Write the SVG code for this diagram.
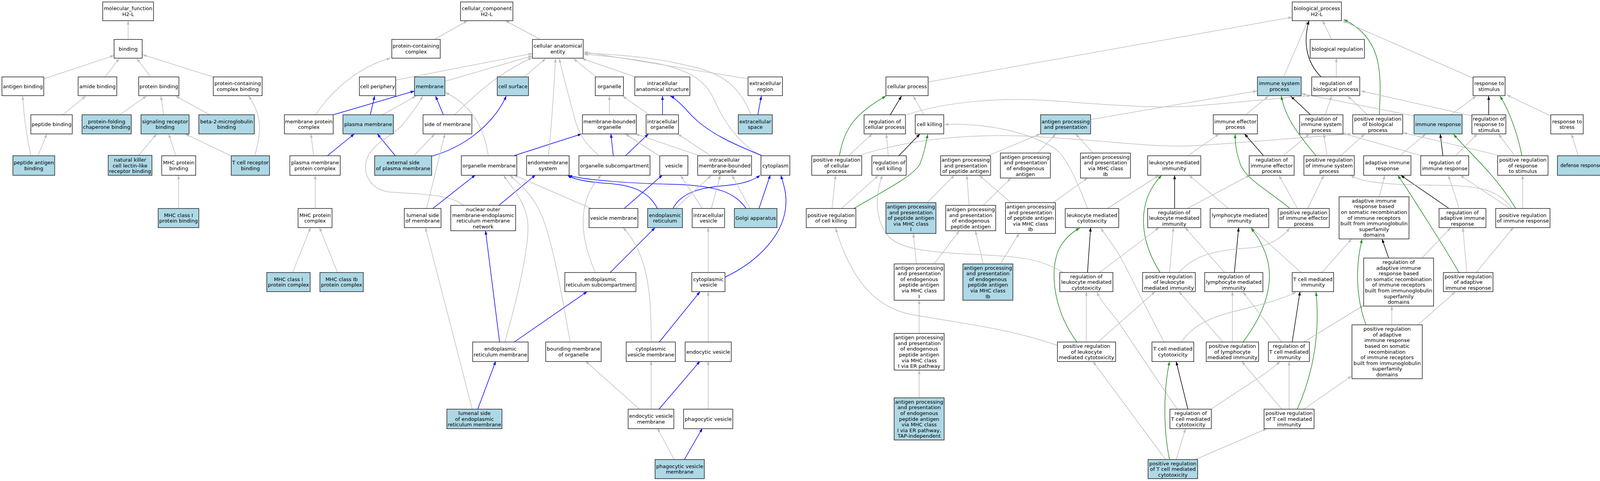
<svg xmlns="http://www.w3.org/2000/svg" width="4113" height="1232" viewBox="0 0 4113 1232">
<style>
.node rect{fill:#fff;stroke:#222;stroke-width:1.5}
.node.hl rect{fill:#add8e6}
.node text{font-family:"DejaVu Sans","Liberation Sans",sans-serif;font-size:13px;text-anchor:middle;fill:#000}
.e path{fill:none;stroke-width:1.5}
.e .g{stroke:#bebebe;marker-end:url(#ag)}
.e .k{stroke:#000;marker-end:url(#ak)}
.e .b{stroke:#0000ff;marker-end:url(#ab)}
.e .v{stroke:#228b22;marker-end:url(#av)}
</style>
<defs>
<marker id="ag" viewBox="0 0 10 7" refX="10" refY="3.5" markerWidth="10" markerHeight="7" markerUnits="userSpaceOnUse" orient="auto"><path d="M0,0L10,3.5L0,7z" fill="#bebebe"/></marker>
<marker id="ak" viewBox="0 0 10 7" refX="10" refY="3.5" markerWidth="10" markerHeight="7" markerUnits="userSpaceOnUse" orient="auto"><path d="M0,0L10,3.5L0,7z" fill="#000"/></marker>
<marker id="ab" viewBox="0 0 10 7" refX="10" refY="3.5" markerWidth="10" markerHeight="7" markerUnits="userSpaceOnUse" orient="auto"><path d="M0,0L10,3.5L0,7z" fill="#0000ff"/></marker>
<marker id="av" viewBox="0 0 10 7" refX="10" refY="3.5" markerWidth="10" markerHeight="7" markerUnits="userSpaceOnUse" orient="auto"><path d="M0,0L10,3.5L0,7z" fill="#228b22"/></marker>
</defs>
<rect x="0" y="0" width="4113" height="1232" fill="#fff"/>
<g id="edges" class="e">
<path class="g" d="M328,100L328,53"/>
<path class="g" d="M112,202L292,142"/>
<path class="g" d="M269,197L305,150"/>
<path class="g" d="M386,197L350,150"/>
<path class="g" d="M545,197L365,140"/>
<path class="g" d="M161,294L219,246"/>
<path class="g" d="M306,294L375,246"/>
<path class="g" d="M419,294L412,246"/>
<path class="g" d="M537,294L450,246"/>
<path class="g" d="M79,399Q62,320 58,246"/>
<path class="g" d="M97,399L120,343"/>
<path class="g" d="M355,398L401,343"/>
<path class="g" d="M450,399L432,343"/>
<path class="g" d="M591,399L474,343"/>
<path class="g" d="M652,399C672,330 668,290 636,246"/>
<path class="g" d="M457,534L457,449"/>
<path class="g" d="M1112,101L1197,53"/>
<path class="g" d="M1381,100L1294,53"/>
<path class="g" d="M1013,205L1363,137"/>
<path class="g" d="M1140,208L1363,143"/>
<path class="g" d="M1342,197L1397,150"/>
<path class="g" d="M1526,197L1468,150"/>
<path class="g" d="M1627,197L1490,150"/>
<path class="g" d="M1915,202L1495,133"/>
<path class="g" d="M1923,294C1900,240 1870,200 1800,178C1700,150 1600,140 1495,136"/>
<path class="g" d="M1949,399C1885,365 1848,300 1828,255C1808,210 1770,180 1680,162C1600,148 1540,142 1495,139"/>
<path class="g" d="M808,294C850,230 920,170 1000,149"/>
<path class="b" d="M853,294L1061,233"/>
<path class="b" d="M948,294L959,246"/>
<path class="g" d="M979,294L1065,246"/>
<path class="b" d="M1135,294L1115,246"/>
<path class="g" d="M1163,294C1210,250 1270,190 1362,148"/>
<path class="g" d="M1250,399C1240,330 1210,270 1140,237"/>
<path class="b" d="M1949,398C1880,370 1810,340 1765,290C1740,262 1725,250 1716,246"/>
<path class="b" d="M1940,294L1949,246"/>
<path class="g" d="M1560,294L1560,246"/>
<path class="g" d="M1662,294L1594,246"/>
<path class="b" d="M1696,294L1696,246"/>
<path class="b" d="M1012,399L966,343"/>
<path class="g" d="M1059,399L1113,343"/>
<path class="b" d="M1105,400C1185,378 1240,330 1270,290C1285,270 1292,255 1296,246"/>
<path class="g" d="M803,399L796,343"/>
<path class="b" d="M838,399L907,343"/>
<path class="b" d="M1315,399L1489,343"/>
<path class="g" d="M1404,399C1412,320 1418,230 1422,150"/>
<path class="g" d="M1533,398C1500,370 1482,345 1470,300C1455,240 1440,190 1432,150"/>
<path class="b" d="M1570,399L1564,343"/>
<path class="b" d="M1601,399L1660,343"/>
<path class="g" d="M1687,399L1601,343"/>
<path class="g" d="M1788,398L1627,343"/>
<path class="g" d="M1818,398L1735,343"/>
<path class="g" d="M807,534L807,449"/>
<path class="g" d="M749,698L795,583"/>
<path class="g" d="M864,698L818,583"/>
<path class="g" d="M1187,526C1150,495 1060,497 1000,492C950,488 925,445 940,405C955,365 1010,345 1030,320C1050,295 1070,270 1082,246"/>
<path class="b" d="M1108,534L1217,448"/>
<path class="g" d="M1092,534L1139,343"/>
<path class="b" d="M1276,527L1371,448"/>
<path class="g" d="M1292,877C1320,780 1360,620 1350,560C1340,510 1310,480 1289,449"/>
<path class="g" d="M1460,877C1440,770 1420,640 1390,560C1370,505 1330,470 1305,449"/>
<path class="g" d="M1516,535L1315,448"/>
<path class="b" d="M1683,534C1660,490 1620,475 1560,470C1510,467 1470,460 1453,449"/>
<path class="b" d="M1910,534C1880,490 1830,475 1720,472C1620,470 1500,462 1455,449"/>
<path class="b" d="M1598,534L1696,448"/>
<path class="b" d="M1723,534C1745,490 1800,480 1860,475C1910,470 1930,460 1946,449"/>
<path class="g" d="M1729,534L1821,449"/>
<path class="g" d="M1798,534L1742,449"/>
<path class="g" d="M1821,534L1844,449"/>
<path class="g" d="M1920,534L1874,449"/>
<path class="b" d="M1943,534L1972,448"/>
<path class="b" d="M1856,710C1940,670 2010,600 2012,520C2013,490 2005,470 1999,449"/>
<path class="g" d="M1813,698L1813,583"/>
<path class="g" d="M1524,698C1490,620 1470,520 1539,449"/>
<path class="b" d="M1562,698L1677,583"/>
<path class="g" d="M1667,877C1668,760 1660,650 1595,583"/>
<path class="b" d="M1315,877L1503,747"/>
<path class="b" d="M1279,877L1243,591"/>
<path class="g" d="M1209,1048L1089,583"/>
<path class="b" d="M1223,1048L1269,925"/>
<path class="b" d="M1687,877L1792,747"/>
<path class="g" d="M1813,877L1813,747"/>
<path class="g" d="M1637,1048L1499,925"/>
<path class="g" d="M1667,1048L1667,925"/>
<path class="b" d="M1687,1048L1792,925"/>
<path class="g" d="M1813,1048L1813,925"/>
<path class="g" d="M1726,1177L1683,1097"/>
<path class="b" d="M1752,1177L1798,1097"/>
<path class="g" d="M2376,210L3308,44"/>
<path class="g" d="M3409,101L3386,53"/>
<path class="g" d="M3286,197L3348,53"/>
<path class="k" d="M3382,197C3345,160 3335,110 3351,53"/>
<path class="v" d="M3531,294C3535,200 3545,100 3440,50"/>
<path class="g" d="M3771,200L3436,53"/>
<path class="g" d="M3421,197L3421,149"/>
<path class="g" d="M3189,294L3247,246"/>
<path class="k" d="M3355,294L3304,246"/>
<path class="g" d="M3392,294L3409,246"/>
<path class="g" d="M3501,294L3450,246"/>
<path class="g" d="M3620,297L3332,240"/>
<path class="g" d="M3714,294L3779,246"/>
<path class="k" d="M3811,294L3811,246"/>
<path class="g" d="M3769,297L3484,233"/>
<path class="g" d="M3970,297L3857,243"/>
<path class="g" d="M2792,306L3218,233"/>
<path class="g" d="M2321,294C2420,260 2560,250 2676,257C2800,265 2950,280 3060,271C3180,262 3300,248 3356,245"/>
<path class="g" d="M2365,294L2338,246"/>
<path class="k" d="M2279,294L2308,246"/>
<path class="v" d="M2149,399C2160,330 2190,290 2268,246"/>
<path class="g" d="M2172,399L2233,343"/>
<path class="g" d="M2196,399C2350,350 2500,345 2609,348C2800,355 2950,380 3060,373C3200,365 3350,350 3460,343"/>
<path class="k" d="M2300,400L2355,343"/>
<path class="g" d="M2274,399L2269,343"/>
<path class="v" d="M2186,534C2260,490 2340,450 2355,420C2365,395 2370,370 2375,344"/>
<path class="g" d="M2130,534L2139,449"/>
<path class="g" d="M2154,534L2249,449"/>
<path class="g" d="M2784,534C2760,470 2730,400 2700,380C2620,330 2500,315 2418,319"/>
<path class="g" d="M2531,398L2663,343"/>
<path class="g" d="M2656,392L2703,343"/>
<path class="g" d="M2798,392L2754,343"/>
<path class="g" d="M3041,399L3121,343"/>
<path class="k" d="M3234,398L3186,343"/>
<path class="g" d="M3286,398L3352,343"/>
<path class="v" d="M3369,399C3320,340 3290,300 3280,246"/>
<path class="g" d="M3397,398L3389,343"/>
<path class="g" d="M3433,398L3494,343"/>
<path class="g" d="M3582,400L3650,343"/>
<path class="k" d="M3694,400L3687,343"/>
<path class="g" d="M3643,400L3436,341"/>
<path class="g" d="M3725,400L3782,343"/>
<path class="g" d="M3877,398L3836,343"/>
<path class="v" d="M3896,398C3880,320 3855,270 3840,246"/>
<path class="g" d="M3833,397L3592,340"/>
<path class="v" d="M3880,534C3830,450 3770,400 3721,344"/>
<path class="g" d="M4040,398L4023,343"/>
<path class="g" d="M3041,533L3199,449"/>
<path class="g" d="M3145,534L3044,449"/>
<path class="g" d="M3321,533L3274,449"/>
<path class="g" d="M3348,533L3389,449"/>
<path class="v" d="M3301,533C3250,490 3190,460 3175,420C3165,390 3162,370 3162,344"/>
<path class="g" d="M3531,504L3545,449"/>
<path class="k" d="M3708,533L3586,449"/>
<path class="g" d="M3735,533L3708,449"/>
<path class="g" d="M3864,533L3738,449"/>
<path class="g" d="M3870,533C3830,480 3780,475 3650,474C3540,473 3480,465 3458,449"/>
<path class="g" d="M3898,534L3898,449"/>
<path class="v" d="M3735,698C3690,620 3650,560 3625,520C3600,480 3585,460 3579,449"/>
<path class="g" d="M3755,698L3745,583"/>
<path class="g" d="M3779,698L3874,583"/>
<path class="k" d="M3555,661L3538,612"/>
<path class="g" d="M3640,661L3714,583"/>
<path class="g" d="M3384,698L3460,612"/>
<path class="g" d="M3331,698L3203,583"/>
<path class="k" d="M3160,698L3171,583"/>
<path class="g" d="M3135,698L3034,583"/>
<path class="v" d="M3182,876C3240,800 3265,720 3240,650C3225,610 3210,595 3203,584"/>
<path class="g" d="M3018,698C3060,650 3120,640 3200,635C3260,630 3290,600 3301,584"/>
<path class="v" d="M2970,698C2920,620 2905,520 2974,449"/>
<path class="g" d="M2994,698L3004,583"/>
<path class="k" d="M3007,533L3007,449"/>
<path class="g" d="M2835,534L2967,449"/>
<path class="k" d="M2784,698L2792,583"/>
<path class="v" d="M2757,876C2700,800 2685,700 2710,640C2725,610 2745,595 2764,584"/>
<path class="g" d="M2815,698L2967,583"/>
<path class="g" d="M2722,698C2660,660 2600,657 2500,652C2380,646 2300,640 2270,600C2240,560 2240,500 2259,449"/>
<path class="g" d="M2374,519L2443,449"/>
<path class="g" d="M2481,526L2475,449"/>
<path class="g" d="M2517,526L2588,456"/>
<path class="g" d="M2588,519L2507,449"/>
<path class="g" d="M2696,519L2784,456"/>
<path class="g" d="M2346,676L2338,598"/>
<path class="g" d="M2391,676L2456,591"/>
<path class="g" d="M2517,676L2497,591"/>
<path class="g" d="M2561,676L2609,598"/>
<path class="g" d="M2353,854L2353,769"/>
<path class="g" d="M2353,1019L2353,948"/>
<path class="g" d="M2707,885C2580,840 2440,825 2330,805C2240,785 2180,720 2139,584"/>
<path class="g" d="M2781,876L2781,747"/>
<path class="g" d="M2811,876L2957,747"/>
<path class="g" d="M2980,876C2940,800 2900,720 2880,680C2860,640 2835,610 2818,584"/>
<path class="g" d="M3024,876C3050,840 3080,820 3150,800C3230,780 3290,765 3318,747"/>
<path class="k" d="M3041,1048L3011,926"/>
<path class="g" d="M3014,1048C2960,970 2900,880 2860,820C2835,790 2815,765 2808,748"/>
<path class="v" d="M2994,1177C2978,1100 2978,1000 2994,926"/>
<path class="g" d="M2984,1177L2798,926"/>
<path class="g" d="M3011,1177L3035,1098"/>
<path class="g" d="M3060,1177L3243,1098"/>
<path class="g" d="M3101,1048C3170,1000 3240,960 3277,926"/>
<path class="g" d="M3281,1048L3179,926"/>
<path class="g" d="M3300,1048L3300,926"/>
<path class="v" d="M3321,1048C3360,960 3380,860 3369,748"/>
<path class="g" d="M3338,1048L3460,963"/>
<path class="k" d="M3308,876L3328,747"/>
<path class="g" d="M3281,876L3182,748"/>
<path class="g" d="M3338,876L3491,782"/>
<path class="g" d="M3131,876L3018,747"/>
<path class="g" d="M3155,876L3155,747"/>
<path class="v" d="M3497,832C3470,760 3470,680 3487,613"/>
<path class="g" d="M3563,832L3563,784"/>
<path class="g" d="M3630,832L3725,748"/>
</g>
<g id="n-mf" class="node"><rect x="263" y="5" width="130" height="48"/><text x="328" y="26.3">molecular_function<tspan x="328" dy="14.6">H2-L</tspan></text></g>
<g id="n-binding" class="node"><rect x="292" y="101" width="72" height="48"/><text x="328" y="129.6">binding</text></g>
<g id="n-antigen-binding" class="node"><rect x="5" y="197" width="107" height="48"/><text x="58.5" y="225.6">antigen binding</text></g>
<g id="n-amide-binding" class="node"><rect x="200" y="197" width="99" height="48"/><text x="249.5" y="225.6">amide binding</text></g>
<g id="n-protein-binding" class="node"><rect x="355" y="197" width="103" height="48"/><text x="406.5" y="225.6">protein binding</text></g>
<g id="n-pcc-binding" class="node"><rect x="546" y="197" width="125" height="48"/><text x="608.5" y="218.3">protein-containing<tspan x="608.5" dy="14.6">complex binding</tspan></text></g>
<g id="n-peptide-binding" class="node"><rect x="79" y="294" width="106" height="49"/><text x="132" y="323.1">peptide binding</text></g>
<g id="n-chaperone" class="node hl"><rect x="210" y="294" width="126" height="49"/><text x="273" y="315.8">protein-folding<tspan x="273" dy="14.6">chaperone binding</tspan></text></g>
<g id="n-signaling" class="node hl"><rect x="361" y="294" width="123" height="49"/><text x="422.5" y="315.8">signaling receptor<tspan x="422.5" dy="14.6">binding</tspan></text></g>
<g id="n-b2m" class="node hl"><rect x="509" y="294" width="142" height="49"/><text x="580" y="315.8">beta-2-microglobulin<tspan x="580" dy="14.6">binding</tspan></text></g>
<g id="n-peptide-antigen-binding" class="node hl"><rect x="33" y="399" width="107" height="50"/><text x="86.5" y="421.3">peptide antigen<tspan x="86.5" dy="14.6">binding</tspan></text></g>
<g id="n-nk" class="node hl"><rect x="277" y="398" width="112" height="51"/><text x="333" y="414">natural killer<tspan x="333" dy="14.6">cell lectin-like</tspan><tspan x="333" dy="14.6">receptor binding</tspan></text></g>
<g id="n-mhc-protein-binding" class="node"><rect x="414" y="399" width="87" height="50"/><text x="457.5" y="421.3">MHC protein<tspan x="457.5" dy="14.6">binding</tspan></text></g>
<g id="n-tcr-binding" class="node hl"><rect x="592" y="399" width="98" height="50"/><text x="641" y="421.3">T cell receptor<tspan x="641" dy="14.6">binding</tspan></text></g>
<g id="n-mhc1-binding" class="node hl"><rect x="405" y="534" width="104" height="49"/><text x="457" y="555.8">MHC class I<tspan x="457" dy="14.6">protein binding</tspan></text></g>
<g id="n-cc" class="node"><rect x="1179" y="5" width="134" height="48"/><text x="1246" y="26.3">cellular_component<tspan x="1246" dy="14.6">H2-L</tspan></text></g>
<g id="n-pcc" class="node"><rect x="1003" y="101" width="124" height="48"/><text x="1065" y="122.3">protein-containing<tspan x="1065" dy="14.6">complex</tspan></text></g>
<g id="n-cae" class="node"><rect x="1363" y="101" width="130" height="48"/><text x="1428" y="122.3">cellular anatomical<tspan x="1428" dy="14.6">entity</tspan></text></g>
<g id="n-cell-periphery" class="node"><rect x="920" y="197" width="93" height="48"/><text x="966.5" y="225.6">cell periphery</text></g>
<g id="n-membrane" class="node hl"><rect x="1061" y="197" width="78" height="48"/><text x="1100" y="225.6">membrane</text></g>
<g id="n-cell-surface" class="node hl"><rect x="1273" y="197" width="80" height="48"/><text x="1313" y="225.6">cell surface</text></g>
<g id="n-organelle" class="node"><rect x="1524" y="197" width="72" height="48"/><text x="1560" y="225.6">organelle</text></g>
<g id="n-ias" class="node"><rect x="1625" y="197" width="141" height="48"/><text x="1695.5" y="218.3">intracellular<tspan x="1695.5" dy="14.6">anatomical structure</tspan></text></g>
<g id="n-ecr" class="node"><rect x="1915" y="197" width="88" height="48"/><text x="1959" y="218.3">extracellular<tspan x="1959" dy="14.6">region</tspan></text></g>
<g id="n-mpc" class="node"><rect x="728" y="294" width="125" height="49"/><text x="790.5" y="315.8">membrane protein<tspan x="790.5" dy="14.6">complex</tspan></text></g>
<g id="n-pm" class="node hl"><rect x="878" y="294" width="129" height="49"/><text x="942.5" y="323.1">plasma membrane</text></g>
<g id="n-side-membrane" class="node"><rect x="1083" y="294" width="125" height="49"/><text x="1145.5" y="323.1">side of membrane</text></g>
<g id="n-mbo" class="node"><rect x="1491" y="294" width="138" height="49"/><text x="1560" y="315.8">membrane-bounded<tspan x="1560" dy="14.6">organelle</tspan></text></g>
<g id="n-io" class="node"><rect x="1654" y="294" width="83" height="49"/><text x="1695.5" y="315.8">intracellular<tspan x="1695.5" dy="14.6">organelle</tspan></text></g>
<g id="n-ecs" class="node hl"><rect x="1890" y="294" width="87" height="49"/><text x="1933.5" y="315.8">extracellular<tspan x="1933.5" dy="14.6">space</tspan></text></g>
<g id="n-pmpc" class="node"><rect x="742" y="399" width="129" height="50"/><text x="806.5" y="421.3">plasma membrane<tspan x="806.5" dy="14.6">protein complex</tspan></text></g>
<g id="n-ext-side" class="node hl"><rect x="959" y="399" width="146" height="50"/><text x="1032" y="421.3">external side<tspan x="1032" dy="14.6">of plasma membrane</tspan></text></g>
<g id="n-org-membrane" class="node"><rect x="1181" y="399" width="142" height="50"/><text x="1252" y="428.6">organelle membrane</text></g>
<g id="n-endomembrane" class="node"><rect x="1348" y="399" width="109" height="50"/><text x="1402.5" y="421.3">endomembrane<tspan x="1402.5" dy="14.6">system</tspan></text></g>
<g id="n-org-subcomp" class="node"><rect x="1482" y="399" width="182" height="50"/><text x="1573" y="428.6">organelle subcompartment</text></g>
<g id="n-vesicle" class="node"><rect x="1689" y="399" width="72" height="50"/><text x="1725" y="428.6">vesicle</text></g>
<g id="n-imbo" class="node"><rect x="1786" y="399" width="138" height="50"/><text x="1855" y="414">intracellular<tspan x="1855" dy="14.6">membrane-bounded</tspan><tspan x="1855" dy="14.6">organelle</tspan></text></g>
<g id="n-cytoplasm" class="node"><rect x="1948" y="399" width="74" height="50"/><text x="1985" y="428.6">cytoplasm</text></g>
<g id="n-mhc-pc" class="node"><rect x="763" y="534" width="87" height="49"/><text x="806.5" y="555.8">MHC protein<tspan x="806.5" dy="14.6">complex</tspan></text></g>
<g id="n-lumenal-side" class="node"><rect x="1035" y="534" width="94" height="49"/><text x="1082" y="555.8">lumenal side<tspan x="1082" dy="14.6">of membrane</tspan></text></g>
<g id="n-nuclear-outer" class="node"><rect x="1154" y="526" width="166" height="65"/><text x="1237" y="541.2">nuclear outer<tspan x="1237" dy="14.6">membrane-endoplasmic</tspan><tspan x="1237" dy="14.6">reticulum membrane</tspan><tspan x="1237" dy="14.6">network</tspan></text></g>
<g id="n-vesicle-membrane" class="node"><rect x="1508" y="534" width="125" height="49"/><text x="1570.5" y="563.1">vesicle membrane</text></g>
<g id="n-er" class="node hl"><rect x="1658" y="534" width="89" height="49"/><text x="1702.5" y="555.8">endoplasmic<tspan x="1702.5" dy="14.6">reticulum</tspan></text></g>
<g id="n-iv" class="node"><rect x="1772" y="534" width="83" height="49"/><text x="1813.5" y="555.8">intracellular<tspan x="1813.5" dy="14.6">vesicle</tspan></text></g>
<g id="n-golgi" class="node hl"><rect x="1880" y="534" width="109" height="49"/><text x="1934.5" y="563.1">Golgi apparatus</text></g>
<g id="n-mhc1-pc" class="node hl"><rect x="683" y="698" width="111" height="49"/><text x="738.5" y="719.8">MHC class I<tspan x="738.5" dy="14.6">protein complex</tspan></text></g>
<g id="n-mhc1b-pc" class="node hl"><rect x="819" y="698" width="111" height="49"/><text x="874.5" y="719.8">MHC class Ib<tspan x="874.5" dy="14.6">protein complex</tspan></text></g>
<g id="n-er-subcomp" class="node"><rect x="1446" y="698" width="182" height="49"/><text x="1537" y="719.8">endoplasmic<tspan x="1537" dy="14.6">reticulum subcompartment</tspan></text></g>
<g id="n-cv" class="node"><rect x="1771" y="698" width="85" height="49"/><text x="1813.5" y="719.8">cytoplasmic<tspan x="1813.5" dy="14.6">vesicle</tspan></text></g>
<g id="n-er-membrane" class="node"><rect x="1210" y="876" width="142" height="50"/><text x="1281" y="898.3">endoplasmic<tspan x="1281" dy="14.6">reticulum membrane</tspan></text></g>
<g id="n-bounding" class="node"><rect x="1397" y="876" width="142" height="50"/><text x="1468" y="898.3">bounding membrane<tspan x="1468" dy="14.6">of organelle</tspan></text></g>
<g id="n-cvm" class="node"><rect x="1603" y="876" width="126" height="50"/><text x="1666" y="898.3">cytoplasmic<tspan x="1666" dy="14.6">vesicle membrane</tspan></text></g>
<g id="n-endocytic" class="node"><rect x="1754" y="876" width="118" height="50"/><text x="1813" y="905.6">endocytic vesicle</text></g>
<g id="n-lumenal-er" class="node hl"><rect x="1144" y="1048" width="141" height="50"/><text x="1214.5" y="1063">lumenal side<tspan x="1214.5" dy="14.6">of endoplasmic</tspan><tspan x="1214.5" dy="14.6">reticulum membrane</tspan></text></g>
<g id="n-evm" class="node"><rect x="1608" y="1048" width="117" height="50"/><text x="1666.5" y="1070.3">endocytic vesicle<tspan x="1666.5" dy="14.6">membrane</tspan></text></g>
<g id="n-phagocytic" class="node"><rect x="1750" y="1048" width="126" height="50"/><text x="1813" y="1077.6">phagocytic vesicle</text></g>
<g id="n-pvm" class="node hl"><rect x="1677" y="1177" width="126" height="49"/><text x="1740" y="1198.8">phagocytic vesicle<tspan x="1740" dy="14.6">membrane</tspan></text></g>
<g id="n-bp" class="node"><rect x="3308" y="5" width="126" height="48"/><text x="3371" y="26.3">biological_process<tspan x="3371" dy="14.6">H2-L</tspan></text></g>
<g id="n-bio-reg" class="node"><rect x="3354" y="101" width="139" height="48"/><text x="3423.5" y="129.6">biological regulation</text></g>
<g id="n-cellular-process" class="node"><rect x="2268" y="197" width="108" height="48"/><text x="2322" y="225.6">cellular process</text></g>
<g id="n-isp" class="node hl"><rect x="3219" y="197" width="112" height="48"/><text x="3275" y="218.3">immune system<tspan x="3275" dy="14.6">process</tspan></text></g>
<g id="n-reg-bp" class="node"><rect x="3358" y="197" width="123" height="48"/><text x="3419.5" y="218.3">regulation of<tspan x="3419.5" dy="14.6">biological process</tspan></text></g>
<g id="n-rts" class="node"><rect x="3771" y="197" width="82" height="48"/><text x="3812" y="218.3">response to<tspan x="3812" dy="14.6">stimulus</tspan></text></g>
<g id="n-reg-cp" class="node"><rect x="2212" y="294" width="106" height="49"/><text x="2265" y="315.8">regulation of<tspan x="2265" dy="14.6">cellular process</tspan></text></g>
<g id="n-cell-killing" class="node"><rect x="2343" y="294" width="73" height="49"/><text x="2379.5" y="323.1">cell killing</text></g>
<g id="n-app" class="node hl"><rect x="2664" y="294" width="128" height="49"/><text x="2728" y="315.8">antigen processing<tspan x="2728" dy="14.6">and presentation</tspan></text></g>
<g id="n-iep" class="node"><rect x="3106" y="294" width="113" height="49"/><text x="3162.5" y="315.8">immune effector<tspan x="3162.5" dy="14.6">process</tspan></text></g>
<g id="n-reg-isp" class="node"><rect x="3327" y="294" width="111" height="49"/><text x="3382.5" y="308.5">regulation of<tspan x="3382.5" dy="14.6">immune system</tspan><tspan x="3382.5" dy="14.6">process</tspan></text></g>
<g id="n-pos-reg-bp" class="node"><rect x="3463" y="294" width="128" height="49"/><text x="3527" y="308.5">positive regulation<tspan x="3527" dy="14.6">of biological</tspan><tspan x="3527" dy="14.6">process</tspan></text></g>
<g id="n-immune-response" class="node hl"><rect x="3620" y="294" width="123" height="49"/><text x="3681.5" y="323.1">immune response</text></g>
<g id="n-reg-rts" class="node"><rect x="3768" y="294" width="87" height="49"/><text x="3811.5" y="308.5">regulation of<tspan x="3811.5" dy="14.6">response to</tspan><tspan x="3811.5" dy="14.6">stimulus</tspan></text></g>
<g id="n-stress" class="node"><rect x="3970" y="294" width="83" height="49"/><text x="4011.5" y="315.8">response to<tspan x="4011.5" dy="14.6">stress</tspan></text></g>
<g id="n-pos-reg-cp" class="node"><rect x="2078" y="399" width="128" height="50"/><text x="2142" y="414">positive regulation<tspan x="2142" dy="14.6">of cellular</tspan><tspan x="2142" dy="14.6">process</tspan></text></g>
<g id="n-reg-ck" class="node"><rect x="2232" y="399" width="88" height="50"/><text x="2276" y="421.3">regulation of<tspan x="2276" dy="14.6">cell killing</tspan></text></g>
<g id="n-app-pep" class="node"><rect x="2408" y="399" width="128" height="50"/><text x="2472" y="414">antigen processing<tspan x="2472" dy="14.6">and presentation</tspan><tspan x="2472" dy="14.6">of peptide antigen</tspan></text></g>
<g id="n-app-endo" class="node"><rect x="2561" y="392" width="128" height="64"/><text x="2625" y="406.7">antigen processing<tspan x="2625" dy="14.6">and presentation</tspan><tspan x="2625" dy="14.6">of endogenous</tspan><tspan x="2625" dy="14.6">antigen</tspan></text></g>
<g id="n-app-ib" class="node"><rect x="2766" y="392" width="128" height="64"/><text x="2830" y="406.7">antigen processing<tspan x="2830" dy="14.6">and presentation</tspan><tspan x="2830" dy="14.6">via MHC class</tspan><tspan x="2830" dy="14.6">Ib</tspan></text></g>
<g id="n-lmi" class="node"><rect x="2938" y="399" width="136" height="50"/><text x="3006" y="421.3">leukocyte mediated<tspan x="3006" dy="14.6">immunity</tspan></text></g>
<g id="n-reg-iep" class="node"><rect x="3198" y="399" width="115" height="50"/><text x="3255.5" y="414">regulation of<tspan x="3255.5" dy="14.6">immune effector</tspan><tspan x="3255.5" dy="14.6">process</tspan></text></g>
<g id="n-pos-reg-isp" class="node"><rect x="3338" y="399" width="129" height="50"/><text x="3402.5" y="414">positive regulation<tspan x="3402.5" dy="14.6">of immune system</tspan><tspan x="3402.5" dy="14.6">process</tspan></text></g>
<g id="n-air" class="node"><rect x="3491" y="399" width="121" height="50"/><text x="3551.5" y="421.3">adaptive immune<tspan x="3551.5" dy="14.6">response</tspan></text></g>
<g id="n-reg-ir" class="node"><rect x="3637" y="399" width="123" height="50"/><text x="3698.5" y="421.3">regulation of<tspan x="3698.5" dy="14.6">immune response</tspan></text></g>
<g id="n-pos-reg-rts" class="node"><rect x="3834" y="399" width="129" height="50"/><text x="3898.5" y="414">positive regulation<tspan x="3898.5" dy="14.6">of response</tspan><tspan x="3898.5" dy="14.6">to stimulus</tspan></text></g>
<g id="n-defense" class="node hl"><rect x="3987" y="399" width="121" height="50"/><text x="4047.5" y="428.4" style="font-size:12px">defense response</text></g>
<g id="n-pos-reg-ck" class="node"><rect x="2064" y="534" width="127" height="49"/><text x="2127.5" y="555.8">positive regulation<tspan x="2127.5" dy="14.6">of cell killing</tspan></text></g>
<g id="n-app-pep-mhc1" class="node hl"><rect x="2268" y="519" width="128" height="79"/><text x="2332" y="533.9">antigen processing<tspan x="2332" dy="14.6">and presentation</tspan><tspan x="2332" dy="14.6">of peptide antigen</tspan><tspan x="2332" dy="14.6">via MHC class</tspan><tspan x="2332" dy="14.6">I</tspan></text></g>
<g id="n-app-endo-pep" class="node"><rect x="2421" y="526" width="128" height="65"/><text x="2485" y="541.2">antigen processing<tspan x="2485" dy="14.6">and presentation</tspan><tspan x="2485" dy="14.6">of endogenous</tspan><tspan x="2485" dy="14.6">peptide antigen</tspan></text></g>
<g id="n-app-pep-ib" class="node"><rect x="2574" y="519" width="128" height="79"/><text x="2638" y="533.9">antigen processing<tspan x="2638" dy="14.6">and presentation</tspan><tspan x="2638" dy="14.6">of peptide antigen</tspan><tspan x="2638" dy="14.6">via MHC class</tspan><tspan x="2638" dy="14.6">Ib</tspan></text></g>
<g id="n-lmc" class="node"><rect x="2727" y="534" width="137" height="49"/><text x="2795.5" y="555.8">leukocyte mediated<tspan x="2795.5" dy="14.6">cytotoxicity</tspan></text></g>
<g id="n-reg-lmi" class="node"><rect x="2938" y="534" width="136" height="49"/><text x="3006" y="548.5">regulation of<tspan x="3006" dy="14.6">leukocyte mediated</tspan><tspan x="3006" dy="14.6">immunity</tspan></text></g>
<g id="n-lymi" class="node"><rect x="3098" y="534" width="150" height="49"/><text x="3173" y="555.8">lymphocyte mediated<tspan x="3173" dy="14.6">immunity</tspan></text></g>
<g id="n-pos-reg-iep" class="node"><rect x="3272" y="534" width="131" height="49"/><text x="3337.5" y="548.5">positive regulation<tspan x="3337.5" dy="14.6">of immune effector</tspan><tspan x="3337.5" dy="14.6">process</tspan></text></g>
<g id="n-air-based" class="node"><rect x="3428" y="504" width="179" height="108"/><text x="3517.5" y="518.8">adaptive immune<tspan x="3517.5" dy="14.6">response based</tspan><tspan x="3517.5" dy="14.6">on somatic recombination</tspan><tspan x="3517.5" dy="14.6">of immune receptors</tspan><tspan x="3517.5" dy="14.6">built from immunoglobulin</tspan><tspan x="3517.5" dy="14.6">superfamily</tspan><tspan x="3517.5" dy="14.6">domains</tspan></text></g>
<g id="n-reg-air" class="node"><rect x="3684" y="534" width="120" height="49"/><text x="3744" y="548.5">regulation of<tspan x="3744" dy="14.6">adaptive immune</tspan><tspan x="3744" dy="14.6">response</tspan></text></g>
<g id="n-pos-reg-ir" class="node"><rect x="3829" y="534" width="139" height="49"/><text x="3898.5" y="555.8">positive regulation<tspan x="3898.5" dy="14.6">of immune response</tspan></text></g>
<g id="n-app-endo-pep-mhc1" class="node"><rect x="2289" y="676" width="128" height="93"/><text x="2353" y="690.6">antigen processing<tspan x="2353" dy="14.6">and presentation</tspan><tspan x="2353" dy="14.6">of endogenous</tspan><tspan x="2353" dy="14.6">peptide antigen</tspan><tspan x="2353" dy="14.6">via MHC class</tspan><tspan x="2353" dy="14.6">I</tspan></text></g>
<g id="n-app-endo-pep-ib" class="node hl"><rect x="2465" y="676" width="128" height="93"/><text x="2529" y="690.6">antigen processing<tspan x="2529" dy="14.6">and presentation</tspan><tspan x="2529" dy="14.6">of endogenous</tspan><tspan x="2529" dy="14.6">peptide antigen</tspan><tspan x="2529" dy="14.6">via MHC class</tspan><tspan x="2529" dy="14.6">Ib</tspan></text></g>
<g id="n-reg-lmc" class="node"><rect x="2713" y="698" width="136" height="49"/><text x="2781" y="712.5">regulation of<tspan x="2781" dy="14.6">leukocyte mediated</tspan><tspan x="2781" dy="14.6">cytotoxicity</tspan></text></g>
<g id="n-pos-reg-lmi" class="node"><rect x="2925" y="698" width="135" height="49"/><text x="2992.5" y="712.5">positive regulation<tspan x="2992.5" dy="14.6">of leukocyte</tspan><tspan x="2992.5" dy="14.6">mediated immunity</tspan></text></g>
<g id="n-reg-lymi" class="node"><rect x="3084" y="698" width="149" height="49"/><text x="3158.5" y="712.5">regulation of<tspan x="3158.5" dy="14.6">lymphocyte mediated</tspan><tspan x="3158.5" dy="14.6">immunity</tspan></text></g>
<g id="n-tcmi" class="node"><rect x="3308" y="698" width="106" height="49"/><text x="3361" y="719.8">T cell mediated<tspan x="3361" dy="14.6">immunity</tspan></text></g>
<g id="n-reg-air-based" class="node"><rect x="3491" y="661" width="179" height="123"/><text x="3580.5" y="676">regulation of<tspan x="3580.5" dy="14.6">adaptive immune</tspan><tspan x="3580.5" dy="14.6">response based</tspan><tspan x="3580.5" dy="14.6">on somatic recombination</tspan><tspan x="3580.5" dy="14.6">of immune receptors</tspan><tspan x="3580.5" dy="14.6">built from immunoglobulin</tspan><tspan x="3580.5" dy="14.6">superfamily</tspan><tspan x="3580.5" dy="14.6">domains</tspan></text></g>
<g id="n-pos-reg-air" class="node"><rect x="3695" y="698" width="127" height="49"/><text x="3758.5" y="712.5">positive regulation<tspan x="3758.5" dy="14.6">of adaptive</tspan><tspan x="3758.5" dy="14.6">immune response</tspan></text></g>
<g id="n-app-er" class="node"><rect x="2289" y="854" width="128" height="94"/><text x="2353" y="869.1">antigen processing<tspan x="2353" dy="14.6">and presentation</tspan><tspan x="2353" dy="14.6">of endogenous</tspan><tspan x="2353" dy="14.6">peptide antigen</tspan><tspan x="2353" dy="14.6">via MHC class</tspan><tspan x="2353" dy="14.6">I via ER pathway</tspan></text></g>
<g id="n-pos-reg-lmc" class="node"><rect x="2707" y="876" width="149" height="50"/><text x="2781.5" y="891">positive regulation<tspan x="2781.5" dy="14.6">of leukocyte</tspan><tspan x="2781.5" dy="14.6">mediated cytotoxicity</tspan></text></g>
<g id="n-tcmc" class="node"><rect x="2949" y="876" width="107" height="50"/><text x="3002.5" y="898.3">T cell mediated<tspan x="3002.5" dy="14.6">cytotoxicity</tspan></text></g>
<g id="n-pos-reg-lymi" class="node"><rect x="3088" y="876" width="134" height="50"/><text x="3155" y="891">positive regulation<tspan x="3155" dy="14.6">of lymphocyte</tspan><tspan x="3155" dy="14.6">mediated immunity</tspan></text></g>
<g id="n-reg-tcmi" class="node"><rect x="3247" y="876" width="105" height="50"/><text x="3299.5" y="891">regulation of<tspan x="3299.5" dy="14.6">T cell mediated</tspan><tspan x="3299.5" dy="14.6">immunity</tspan></text></g>
<g id="n-pos-reg-air-based" class="node"><rect x="3461" y="832" width="180" height="138"/><text x="3551" y="847.2">positive regulation<tspan x="3551" dy="14.6">of adaptive</tspan><tspan x="3551" dy="14.6">immune response</tspan><tspan x="3551" dy="14.6">based on somatic</tspan><tspan x="3551" dy="14.6">recombination</tspan><tspan x="3551" dy="14.6">of immune receptors</tspan><tspan x="3551" dy="14.6">built from immunoglobulin</tspan><tspan x="3551" dy="14.6">superfamily</tspan><tspan x="3551" dy="14.6">domains</tspan></text></g>
<g id="n-app-tap" class="node hl"><rect x="2289" y="1019" width="128" height="108"/><text x="2353" y="1033.8">antigen processing<tspan x="2353" dy="14.6">and presentation</tspan><tspan x="2353" dy="14.6">of endogenous</tspan><tspan x="2353" dy="14.6">peptide antigen</tspan><tspan x="2353" dy="14.6">via MHC class</tspan><tspan x="2353" dy="14.6">I via ER pathway,</tspan><tspan x="2353" dy="14.6">TAP-independent</tspan></text></g>
<g id="n-reg-tcmc" class="node"><rect x="2995" y="1048" width="106" height="50"/><text x="3048" y="1063">regulation of<tspan x="3048" dy="14.6">T cell mediated</tspan><tspan x="3048" dy="14.6">cytotoxicity</tspan></text></g>
<g id="n-pos-reg-tcmi" class="node"><rect x="3236" y="1048" width="128" height="50"/><text x="3300" y="1063">positive regulation<tspan x="3300" dy="14.6">of T cell mediated</tspan><tspan x="3300" dy="14.6">immunity</tspan></text></g>
<g id="n-pos-reg-tcmc" class="node hl"><rect x="2939" y="1177" width="127" height="49"/><text x="3002.5" y="1191.5">positive regulation<tspan x="3002.5" dy="14.6">of T cell mediated</tspan><tspan x="3002.5" dy="14.6">cytotoxicity</tspan></text></g>
</svg>
